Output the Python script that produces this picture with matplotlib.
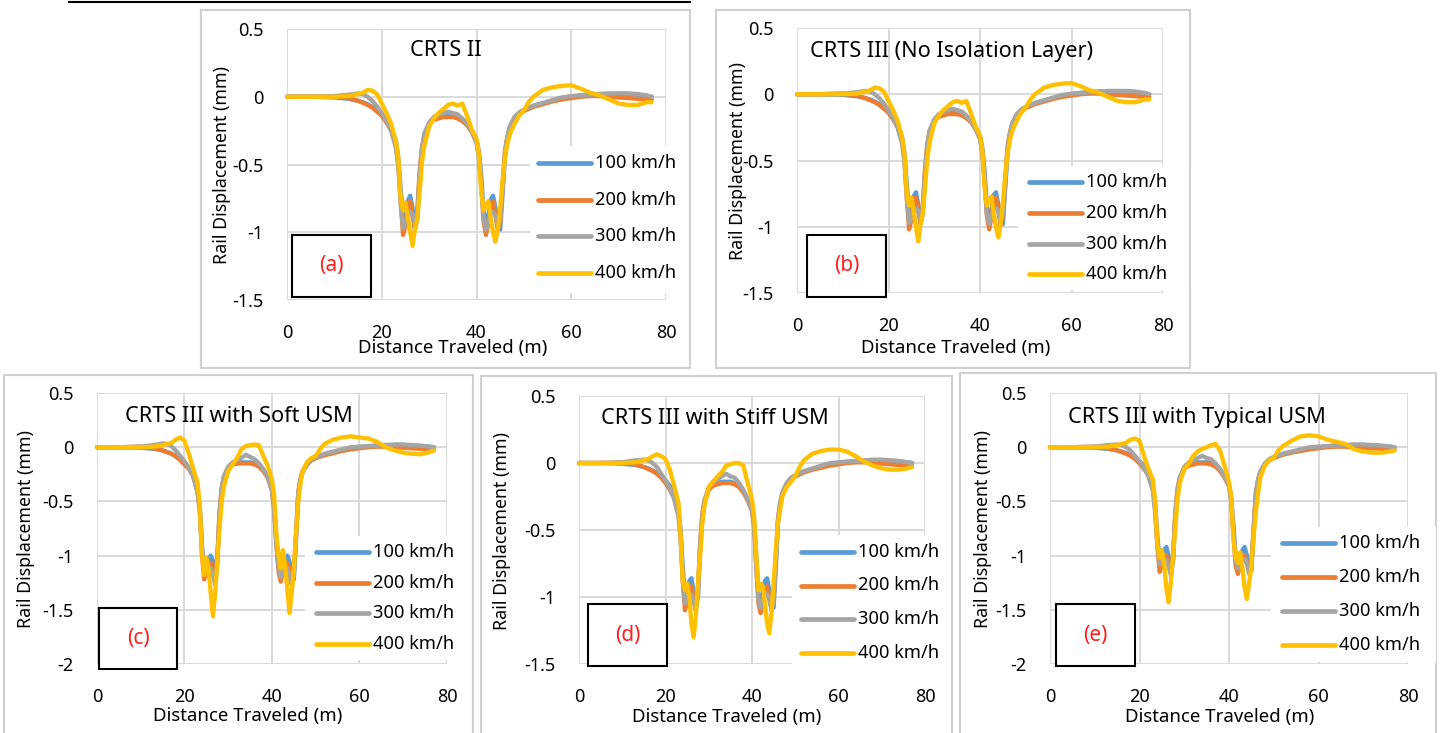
import matplotlib
matplotlib.use("Agg")
import matplotlib.pyplot as plt
from matplotlib.patches import Rectangle
from matplotlib.lines import Line2D
from matplotlib.ticker import FuncFormatter

plt.rcParams['font.family'] = ['Noto Sans', 'DejaVu Sans']
plt.rcParams['axes.unicode_minus'] = False

# ---------------- data ----------------
SPEEDS = ["100 km/h", "200 km/h", "300 km/h", "400 km/h"]
COLORS = ["#5B9BD5", "#ED7D31", "#A5A5A5", "#FFC000"]
TITLES = ["CRTS II", "CRTS III (No Isolation Layer)", "CRTS III with Soft USM",
          "CRTS III with Stiff USM", "CRTS III with Typical USM"]
LETTERS = ["(a)", "(b)", "(c)", "(d)", "(e)"]
XLABEL = "Distance Traveled (m)"
YLABEL = "Rail Displacement (mm)"
X_TICKS = [0, 20, 40, 60, 80]

# distance (m) shared by all series
X = [0, 5, 10, 13, 15, 16, 17, 18, 19, 20,
     21, 22, 23, 23.5, 24, 24.5, 25, 25.5, 26, 26.5,
     27, 27.5, 28, 28.5, 29, 30, 31, 32, 33, 34,
     35, 36, 37, 38, 39, 40, 40.5, 41, 41.5, 42,
     42.5, 43, 43.5, 44, 44.5, 45, 45.5, 46, 46.5, 47,
     48, 49, 50, 51, 52, 54, 56, 58, 60, 62,
     64, 66, 68, 70, 72, 74, 76, 77]

# (a) CRTS II
A_100 = [0, 0, -0.005, -0.015, -0.03, -0.04, -0.055, -0.075, -0.1, -0.13,
         -0.17, -0.23, -0.33, -0.45, -0.68, -0.9, -0.88, -0.77, -0.73, -0.82,
         -0.98, -0.9, -0.6, -0.4, -0.29, -0.2, -0.16, -0.14, -0.135, -0.135,
         -0.14, -0.15, -0.17, -0.2, -0.25, -0.32, -0.4, -0.58, -0.85, -0.95,
         -0.87, -0.76, -0.73, -0.82, -0.96, -0.98, -0.72, -0.45, -0.31, -0.24,
         -0.17, -0.13, -0.1, -0.085, -0.07, -0.05, -0.03, -0.015, 0.0, 0.01,
         0.015, 0.02, 0.02, 0.02, 0.02, 0.015, 0.005, 0.0]
A_200 = [0, 0, 0.005, -0.01, -0.03, -0.045, -0.06, -0.08, -0.11, -0.14,
         -0.19, -0.25, -0.36, -0.5, -0.78, -1.02, -0.95, -0.8, -0.77, -0.88,
         -0.97, -0.84, -0.55, -0.37, -0.28, -0.2, -0.17, -0.16, -0.15, -0.15,
         -0.15, -0.16, -0.18, -0.21, -0.26, -0.33, -0.43, -0.65, -0.92, -1.02,
         -0.93, -0.8, -0.77, -0.88, -0.98, -0.93, -0.66, -0.4, -0.3, -0.23,
         -0.17, -0.13, -0.105, -0.09, -0.075, -0.055, -0.035, -0.02, -0.01, 0.0,
         0.005, 0.005, 0.0, -0.005, -0.01, -0.015, -0.02, -0.02]
A_300 = [0, 0, 0.005, 0.015, 0.025, 0.02, 0.0, -0.03, -0.07, -0.12,
         -0.18, -0.25, -0.38, -0.52, -0.78, -0.97, -0.93, -0.87, -0.85, -0.87,
         -0.94, -0.86, -0.58, -0.38, -0.27, -0.19, -0.15, -0.13, -0.12, -0.11,
         -0.12, -0.13, -0.16, -0.2, -0.26, -0.34, -0.45, -0.65, -0.9, -0.98,
         -0.92, -0.86, -0.85, -0.88, -0.95, -0.92, -0.68, -0.42, -0.3, -0.22,
         -0.15, -0.115, -0.095, -0.08, -0.065, -0.045, -0.025, -0.005, 0.005, 0.01,
         0.015, 0.02, 0.025, 0.025, 0.025, 0.02, 0.01, 0.0]
A_400 = [0, 0, 0, 0.005, 0.02, 0.03, 0.05, 0.045, 0.02, -0.05,
         -0.12, -0.2, -0.33, -0.45, -0.75, -0.84, -0.78, -0.88, -1.0, -1.1,
         -0.98, -0.9, -0.7, -0.48, -0.36, -0.22, -0.16, -0.12, -0.09, -0.06,
         -0.05, -0.065, -0.05, -0.14, -0.24, -0.31, -0.42, -0.7, -0.84, -0.8,
         -0.77, -0.9, -1.0, -1.07, -0.98, -0.82, -0.62, -0.45, -0.35, -0.28,
         -0.2, -0.14, -0.1, -0.04, 0.0, 0.05, 0.07, 0.08, 0.085, 0.06,
         0.03, 0.01, -0.02, -0.05, -0.06, -0.06, -0.04, -0.04]

# (b) CRTS III (No Isolation Layer)
B_100 = [0, 0, -0.005, -0.015, -0.03, -0.04, -0.055, -0.075, -0.1, -0.13,
         -0.17, -0.23, -0.33, -0.45, -0.68, -0.9, -0.88, -0.77, -0.74, -0.83,
         -0.98, -0.9, -0.6, -0.4, -0.29, -0.2, -0.16, -0.14, -0.135, -0.135,
         -0.14, -0.15, -0.17, -0.2, -0.25, -0.32, -0.4, -0.58, -0.85, -0.95,
         -0.87, -0.76, -0.74, -0.83, -0.96, -0.98, -0.72, -0.45, -0.31, -0.24,
         -0.17, -0.13, -0.1, -0.085, -0.07, -0.05, -0.03, -0.015, 0.0, 0.01,
         0.015, 0.02, 0.02, 0.02, 0.02, 0.015, 0.005, 0.0]
B_200 = [0, 0, 0.005, -0.01, -0.03, -0.045, -0.06, -0.08, -0.11, -0.14,
         -0.19, -0.25, -0.36, -0.5, -0.78, -1.02, -0.95, -0.8, -0.78, -0.88,
         -0.97, -0.84, -0.55, -0.37, -0.28, -0.2, -0.17, -0.16, -0.15, -0.15,
         -0.15, -0.16, -0.18, -0.21, -0.26, -0.33, -0.43, -0.65, -0.92, -1.02,
         -0.93, -0.8, -0.78, -0.88, -0.98, -0.93, -0.66, -0.4, -0.3, -0.23,
         -0.17, -0.13, -0.105, -0.09, -0.075, -0.055, -0.035, -0.02, -0.01, 0.0,
         0.005, 0.005, 0.0, -0.005, -0.01, -0.015, -0.02, -0.02]
B_300 = [0, 0, 0.005, 0.015, 0.025, 0.02, 0.0, -0.03, -0.07, -0.12,
         -0.18, -0.25, -0.38, -0.52, -0.78, -0.97, -0.93, -0.87, -0.86, -0.88,
         -0.94, -0.86, -0.58, -0.38, -0.27, -0.19, -0.15, -0.13, -0.12, -0.11,
         -0.12, -0.13, -0.16, -0.2, -0.26, -0.34, -0.45, -0.65, -0.9, -0.98,
         -0.92, -0.86, -0.86, -0.88, -0.95, -0.92, -0.68, -0.42, -0.3, -0.22,
         -0.15, -0.115, -0.095, -0.08, -0.065, -0.045, -0.025, -0.005, 0.005, 0.01,
         0.015, 0.02, 0.025, 0.025, 0.025, 0.02, 0.01, 0.0]
B_400 = [0, 0, 0, 0.005, 0.02, 0.03, 0.05, 0.045, 0.02, -0.05,
         -0.12, -0.2, -0.33, -0.45, -0.75, -0.84, -0.78, -0.88, -1.0, -1.11,
         -0.98, -0.9, -0.7, -0.48, -0.36, -0.22, -0.16, -0.12, -0.09, -0.06,
         -0.05, -0.065, -0.05, -0.14, -0.24, -0.31, -0.42, -0.7, -0.84, -0.8,
         -0.77, -0.9, -1.0, -1.08, -0.98, -0.82, -0.62, -0.45, -0.35, -0.28,
         -0.2, -0.14, -0.1, -0.04, 0.0, 0.05, 0.07, 0.08, 0.085, 0.06,
         0.03, 0.01, -0.02, -0.05, -0.06, -0.06, -0.04, -0.04]

# (c) CRTS III with Soft USM
C_100 = [0, 0, -0.005, -0.015, -0.03, -0.045, -0.06, -0.08, -0.11, -0.15,
         -0.19, -0.26, -0.4, -0.55, -0.9, -1.15, -1.1, -1.03, -1.0, -1.05,
         -1.2, -1.05, -0.65, -0.4, -0.28, -0.19, -0.16, -0.15, -0.14, -0.14,
         -0.14, -0.15, -0.17, -0.21, -0.27, -0.38, -0.55, -0.85, -1.1, -1.18,
         -1.1, -1.03, -1.0, -1.05, -1.2, -1.22, -0.85, -0.45, -0.3, -0.23,
         -0.16, -0.12, -0.1, -0.085, -0.07, -0.05, -0.03, -0.015, 0.0, 0.01,
         0.015, 0.02, 0.02, 0.02, 0.015, 0.01, 0.005, 0.0]
C_200 = [0, 0, 0.005, -0.01, -0.03, -0.045, -0.06, -0.085, -0.12, -0.16,
         -0.2, -0.27, -0.42, -0.6, -1.0, -1.22, -1.12, -1.06, -1.07, -1.12,
         -1.2, -1.0, -0.6, -0.37, -0.27, -0.19, -0.16, -0.15, -0.15, -0.15,
         -0.15, -0.16, -0.18, -0.22, -0.28, -0.4, -0.58, -0.9, -1.15, -1.24,
         -1.15, -1.06, -1.07, -1.12, -1.2, -1.15, -0.8, -0.42, -0.29, -0.22,
         -0.16, -0.12, -0.1, -0.085, -0.075, -0.055, -0.035, -0.02, -0.01, 0.0,
         0.005, 0.005, 0.0, -0.005, -0.01, -0.015, -0.02, -0.02]
C_300 = [0, 0, 0.005, 0.02, 0.035, 0.03, 0.01, -0.03, -0.08, -0.13,
         -0.19, -0.27, -0.42, -0.58, -0.95, -1.15, -1.12, -1.1, -1.12, -1.18,
         -1.27, -1.08, -0.62, -0.38, -0.27, -0.18, -0.14, -0.12, -0.1, -0.07,
         -0.09, -0.11, -0.15, -0.2, -0.27, -0.4, -0.58, -0.9, -1.12, -1.2,
         -1.13, -1.1, -1.12, -1.2, -1.27, -1.17, -0.8, -0.43, -0.3, -0.22,
         -0.15, -0.11, -0.09, -0.075, -0.06, -0.04, -0.02, 0.0, 0.005, 0.01,
         0.015, 0.02, 0.025, 0.025, 0.02, 0.015, 0.005, 0.0]
C_400 = [0, 0, 0, 0.005, 0.02, 0.03, 0.04, 0.07, 0.09, 0.06,
         -0.06, -0.2, -0.33, -0.55, -0.98, -1.18, -1.02, -1.12, -1.35, -1.56,
         -1.35, -1.05, -0.75, -0.5, -0.36, -0.22, -0.16, -0.1, -0.02, 0.01,
         0.02, 0.025, 0.02, -0.08, -0.17, -0.3, -0.45, -0.8, -1.0, -1.12,
         -0.95, -1.1, -1.3, -1.53, -1.35, -1.12, -0.8, -0.5, -0.33, -0.22,
         -0.14, -0.1, -0.08, -0.02, 0.03, 0.07, 0.09, 0.1, 0.09, 0.08,
         0.05, 0.0, -0.03, -0.05, -0.06, -0.065, -0.045, -0.03]

# (d) CRTS III with Stiff USM
D_100 = [0, 0, -0.005, -0.015, -0.03, -0.04, -0.055, -0.075, -0.1, -0.13,
         -0.17, -0.23, -0.35, -0.5, -0.78, -1.0, -0.96, -0.88, -0.86, -0.95,
         -1.08, -1.0, -0.65, -0.42, -0.3, -0.2, -0.16, -0.15, -0.14, -0.14,
         -0.14, -0.15, -0.17, -0.21, -0.27, -0.34, -0.45, -0.7, -0.98, -1.06,
         -0.98, -0.88, -0.86, -0.95, -1.08, -1.08, -0.78, -0.45, -0.31, -0.24,
         -0.16, -0.12, -0.1, -0.08, -0.065, -0.045, -0.03, -0.015, 0.0, 0.01,
         0.015, 0.02, 0.02, 0.02, 0.015, 0.01, 0.005, 0.0]
D_200 = [0, 0, 0.005, -0.01, -0.03, -0.045, -0.06, -0.08, -0.11, -0.15,
         -0.2, -0.26, -0.38, -0.55, -0.88, -1.1, -1.02, -0.93, -0.92, -1.0,
         -1.1, -0.95, -0.6, -0.38, -0.28, -0.2, -0.17, -0.16, -0.15, -0.15,
         -0.15, -0.16, -0.18, -0.22, -0.28, -0.36, -0.48, -0.78, -1.05, -1.12,
         -1.03, -0.93, -0.92, -1.0, -1.08, -1.02, -0.72, -0.42, -0.3, -0.23,
         -0.16, -0.12, -0.1, -0.085, -0.07, -0.05, -0.035, -0.02, -0.01, 0.0,
         0.005, 0.005, 0.0, -0.005, -0.01, -0.015, -0.02, -0.02]
D_300 = [0, 0, 0.005, 0.02, 0.025, 0.02, 0.0, -0.03, -0.08, -0.13,
         -0.19, -0.27, -0.4, -0.57, -0.88, -1.05, -1.0, -0.98, -0.98, -1.02,
         -1.1, -0.98, -0.62, -0.4, -0.28, -0.18, -0.14, -0.12, -0.1, -0.08,
         -0.1, -0.11, -0.15, -0.2, -0.27, -0.35, -0.48, -0.78, -1.02, -1.08,
         -1.02, -0.98, -0.98, -1.02, -1.1, -1.02, -0.74, -0.43, -0.3, -0.22,
         -0.15, -0.11, -0.09, -0.075, -0.06, -0.04, -0.02, 0.0, 0.005, 0.01,
         0.015, 0.02, 0.025, 0.025, 0.02, 0.015, 0.005, 0.0]
D_400 = [0, 0, 0, 0.005, 0.02, 0.03, 0.05, 0.065, 0.05, 0.03,
         -0.05, -0.17, -0.3, -0.55, -0.88, -0.95, -0.9, -1.0, -1.2, -1.3,
         -1.15, -0.9, -0.7, -0.45, -0.32, -0.18, -0.14, -0.1, -0.07, -0.02,
         -0.01, 0.0, 0.0, -0.02, -0.15, -0.27, -0.4, -0.7, -0.95, -0.9,
         -0.92, -1.05, -1.2, -1.27, -1.12, -0.9, -0.65, -0.45, -0.35, -0.25,
         -0.18, -0.14, -0.1, -0.03, 0.02, 0.07, 0.09, 0.1, 0.1, 0.085,
         0.05, 0.01, -0.02, -0.04, -0.05, -0.05, -0.04, -0.03]

# (e) CRTS III with Typical USM
E_100 = [0, 0, -0.005, -0.015, -0.03, -0.04, -0.055, -0.075, -0.1, -0.13,
         -0.17, -0.23, -0.36, -0.52, -0.82, -1.05, -1.02, -0.95, -0.92, -1.0,
         -1.15, -1.05, -0.65, -0.42, -0.3, -0.2, -0.16, -0.15, -0.14, -0.14,
         -0.14, -0.15, -0.17, -0.21, -0.27, -0.35, -0.47, -0.72, -1.02, -1.1,
         -1.02, -0.95, -0.92, -1.0, -1.12, -1.14, -0.8, -0.45, -0.31, -0.24,
         -0.16, -0.12, -0.1, -0.08, -0.065, -0.045, -0.03, -0.015, 0.0, 0.01,
         0.015, 0.02, 0.02, 0.02, 0.015, 0.01, 0.005, 0.0]
E_200 = [0, 0, 0.005, -0.01, -0.03, -0.045, -0.06, -0.08, -0.11, -0.15,
         -0.2, -0.26, -0.39, -0.58, -0.92, -1.15, -1.08, -1.0, -1.0, -1.06,
         -1.15, -1.0, -0.6, -0.38, -0.28, -0.2, -0.17, -0.16, -0.15, -0.15,
         -0.15, -0.16, -0.18, -0.22, -0.28, -0.36, -0.5, -0.8, -1.1, -1.17,
         -1.08, -1.0, -1.0, -1.06, -1.12, -1.08, -0.74, -0.42, -0.3, -0.23,
         -0.16, -0.12, -0.1, -0.085, -0.07, -0.05, -0.035, -0.02, -0.01, 0.0,
         0.005, 0.005, 0.0, -0.005, -0.01, -0.015, -0.02, -0.02]
E_300 = [0, 0, 0.005, 0.02, 0.025, 0.02, 0.0, -0.03, -0.08, -0.13,
         -0.19, -0.27, -0.4, -0.6, -0.9, -1.08, -1.05, -1.03, -1.04, -1.1,
         -1.18, -1.03, -0.62, -0.4, -0.28, -0.18, -0.14, -0.12, -0.1, -0.08,
         -0.1, -0.11, -0.15, -0.2, -0.27, -0.35, -0.5, -0.8, -1.06, -1.12,
         -1.06, -1.03, -1.03, -1.08, -1.17, -1.08, -0.76, -0.43, -0.3, -0.22,
         -0.15, -0.11, -0.09, -0.075, -0.06, -0.04, -0.02, 0.0, 0.005, 0.01,
         0.015, 0.02, 0.025, 0.025, 0.02, 0.015, 0.005, 0.0]
E_400 = [0, 0, 0, 0.005, 0.02, 0.03, 0.04, 0.07, 0.08, 0.06,
         -0.08, -0.2, -0.3, -0.5, -0.9, -1.02, -0.95, -1.07, -1.3, -1.43,
         -1.25, -1.0, -0.75, -0.48, -0.33, -0.2, -0.15, -0.08, -0.04, -0.015,
         0.0, 0.02, 0.03, -0.03, -0.17, -0.32, -0.46, -0.85, -1.02, -1.07,
         -0.97, -1.12, -1.3, -1.4, -1.25, -1.1, -0.82, -0.6, -0.42, -0.28,
         -0.17, -0.12, -0.1, -0.03, 0.01, 0.06, 0.1, 0.11, 0.1, 0.07,
         0.05, 0.03, -0.02, -0.04, -0.05, -0.05, -0.04, -0.03]

SERIES = [[A_100, A_200, A_300, A_400],
          [B_100, B_200, B_300, B_400],
          [C_100, C_200, C_300, C_400],
          [D_100, D_200, D_300, D_400],
          [E_100, E_200, E_300, E_400]]
YMINS = [-1.5, -1.5, -2.0, -1.5, -2.0]
YMAX = 0.5

# ---------------- layout (pixels) ----------------
W, H = 1443, 733
fig = plt.figure(figsize=(W / 100, H / 100), dpi=100)
fig.patch.set_facecolor("white")


def fx(x):
    return x / W


def fy(y):
    return 1 - y / H


LAYOUT = [
    dict(border=(201, 10, 690, 368), ax=(287, 29, 666, 300), title=(446, 51),
         ylab=(222, 165), xlab=(453, 348), box=(292, 235, 371, 297),
         leg=(530, 146, 685, 293), leg_x=538, leg_y=163, leg_dy=36.7),
    dict(border=(716, 10, 1190, 368), ax=(797, 28, 1163, 293), title=(952, 51),
         ylab=(738, 161), xlab=(956, 348), box=(807, 235, 886, 297),
         leg=(1018, 166, 1189, 290), leg_x=1029, leg_y=182, leg_dy=30.8),
    dict(border=(4, 375, 473, 740), ax=(97, 393, 447, 664), title=(239, 417),
         ylab=(26, 529), xlab=(248, 716), box=(99, 608, 177, 669),
         leg=(305, 536, 470, 660), leg_x=316, leg_y=552, leg_dy=30.7),
    dict(border=(481, 376, 952, 740), ax=(579, 396, 925, 664), title=(715, 419),
         ylab=(502, 531), xlab=(727, 717), box=(588, 604, 667, 666),
         leg=(792, 535, 950, 668), leg_x=801, leg_y=552, leg_dy=33.5),
    dict(border=(960, 373, 1436, 740), ax=(1050, 393, 1408, 664), title=(1197, 417),
         ylab=(983, 529), xlab=(1220, 717), box=(1056, 604, 1135, 666),
         leg=(1271, 527, 1436, 662), leg_x=1282, leg_y=543, leg_dy=34),
]

GRID = "#d9d9d9"
fmt = FuncFormatter(lambda v, p: "{:g}".format(round(v, 2)))

# top black rule
fig.add_artist(Line2D([fx(69), fx(690)], [fy(2), fy(2)], color="black", lw=1.5))

for i, L in enumerate(LAYOUT):
    # panel border
    l, t, r, b = L["border"]
    fig.add_artist(Rectangle((fx(l), fy(b)), fx(r - l), (b - t) / H, fill=False,
                             edgecolor="#d0d0d0", lw=1.5, zorder=0))
    l, t, r, b = L["ax"]
    ax = fig.add_axes([fx(l), fy(b), fx(r - l), (b - t) / H])
    ax.set_facecolor("none")
    for s in ax.spines.values():
        s.set_visible(False)
    ax.set_xlim(0, 80)
    ax.set_ylim(YMINS[i], YMAX)
    ax.set_xticks(X_TICKS)
    yt = []
    v = YMAX
    while v >= YMINS[i] - 1e-9:
        yt.append(round(v, 2))
        v -= 0.5
    ax.set_yticks(yt)
    ax.yaxis.set_major_formatter(fmt)
    ax.grid(True, color=GRID, lw=1.4, zorder=0)
    ax.set_axisbelow(True)
    ax.tick_params(length=0, labelsize=13, pad=17, colors="black")
    for k in range(4):
        ax.plot(X, SERIES[i][k], color=COLORS[k], lw=3.1, solid_joinstyle="round",
                solid_capstyle="round", zorder=2 + k, clip_on=False)
    # titles / axis labels
    tx, ty = L["title"]
    fig.text(fx(tx), fy(ty), TITLES[i], ha="center", va="center", fontsize=15.6)
    yx, yy = L["ylab"]
    fig.text(fx(yx), fy(yy), YLABEL, ha="center", va="center", rotation=90, fontsize=12.8)
    xx, xy = L["xlab"]
    fig.text(fx(xx), fy(xy), XLABEL, ha="center", va="center", fontsize=13.4)
    # letter box
    l, t, r, b = L["box"]
    fig.add_artist(Rectangle((fx(l), fy(b)), fx(r - l), (b - t) / H, facecolor="white",
                             edgecolor="black", lw=1.5, zorder=6))
    fig.text(fx((l + r) / 2), fy((t + b) / 2), LETTERS[i], ha="center", va="center",
             color="#ff2020", fontsize=15, zorder=7)
    # legend
    l, t, r, b = L["leg"]
    fig.add_artist(Rectangle((fx(l), fy(b)), fx(r - l), (b - t) / H, facecolor="white",
                             edgecolor="none", zorder=6))
    for k in range(4):
        y = L["leg_y"] + k * L["leg_dy"]
        x0 = L["leg_x"]
        fig.add_artist(Line2D([fx(x0), fx(x0 + 53)], [fy(y), fy(y)], color=COLORS[k],
                              lw=3.4, solid_capstyle="round", zorder=7))
        fig.text(fx(x0 + 57), fy(y), SPEEDS[k], ha="left", va="center", fontsize=13.2,
                 zorder=7)

fig.savefig("out.png", dpi=100, facecolor="white")
